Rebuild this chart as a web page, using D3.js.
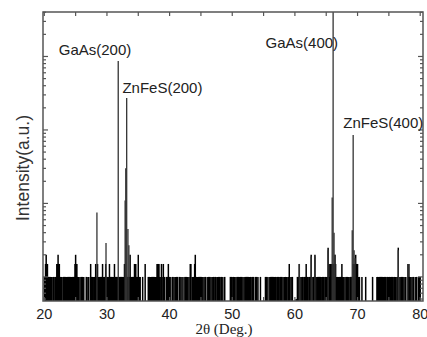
<!DOCTYPE html>
<html><head><meta charset="utf-8">
<script src="https://cdn.jsdelivr.net/npm/d3@7"></script>
<style>html,body{margin:0;padding:0;background:#fff}svg{display:block}</style>
</head><body>
<script>
// ---- data ----
// background counts, one digit per 0.1 deg starting at 20.0 deg (digit = count, 0 = no signal)
const scanStart = 20.0;
const scanStep = 0.1;
const countUnit = 5; // intensity per count
const noiseChunks = [
  "22343322222220220222334332222022222222222022222223",  // 20.0-24.9
  "43322202020202000220220032020222322322222223222232",  // 25.0-29.9
  "22223222222232222222222202223322222224222222333222",  // 30.0-34.9
  "42220002000300002022222220222233332023203020020230",  // 35.0-39.9
  "20200202020202002020200202020202033022223422222222",  // 40.0-44.9
  "22020202002020202020220220222020220200200000000202",  // 45.0-49.9
  "02202020202022020202020222222220202002020200020000",  // 50.0-54.9
  "00020202002222222222202020220202020202022320202000",  // 55.0-59.9
  "00102223202022020232220202420222420220220202202022",  // 60.0-64.9
  "22253233323332432222222223202020202020222223333432",  // 65.0-69.9
  "32220002000002000000000020000002222222222222220222",  // 70.0-74.9
  "22222220222202252020202020220022320202020020200202",  // 75.0-79.9
  "2"                                                    // 80.0
];
// diffraction peaks and isolated spikes: [2theta, intensity]
const peakX = [28.4, 29.85, 31.8, 32.9, 33.0, 33.15, 33.35, 33.5, 65.3, 65.95, 66.1, 66.25, 66.4, 69.15, 69.3, 69.45, 69.6, 76.5, 78.0, 62.6, 63.2, 60.7];
const peakY = [75, 29, 8700, 110, 300, 2720, 45, 27, 23, 120, 60000, 40, 20, 43, 855, 23, 18, 23, 15, 19, 19, 15];
// annotations: text and anchor (2theta, intensity) of the text centre/baseline
const labelText = ["GaAs(200)", "ZnFeS(200)", "GaAs(400)", "ZnFeS(400)"];
const labelX = [28.1, 38.86, 61.11, 74.11];
const labelY = [10470, 3185, 13030, 1062];
const xTickLabels = [20, 30, 40, 50, 60, 70, 80];
const xMinorTicks = [20, 25, 30, 35, 40, 45, 50, 55, 60, 65, 70, 75, 80];
const xTitle = "2θ (Deg.)";
const yTitle = "Intensity(a.u.)";

// ---- drawing ----
const W = 427, H = 337;
const box = {left: 43, right: 423, top: 12, bottom: 301};
const x = d3.scaleLinear().domain([20, 80]).range([44.3, 420.2]);
const y = d3.scaleLog().domain([4.7, 40300]).range([box.bottom, box.top]);

const svg = d3.select("body").append("svg").attr("width", W).attr("height", H);

svg.append("clipPath").attr("id", "clip").append("rect")
  .attr("x", box.left).attr("y", box.top)
  .attr("width", box.right - box.left).attr("height", box.bottom - box.top);

const counts = noiseChunks.join("").split("").map(Number);
const noise = counts.map((c, i) => ({x: scanStart + i * scanStep, v: c * countUnit})).filter(d => d.v > 0);
const peaks = peakX.map((px, i) => ({x: px, v: peakY[i]}));

const g = svg.append("g").attr("clip-path", "url(#clip)");
g.selectAll("line.n").data(noise).join("line").attr("class", "n")
  .attr("x1", d => x(d.x)).attr("x2", d => x(d.x))
  .attr("y1", box.bottom).attr("y2", d => y(d.v))
  .attr("stroke", "#000").attr("stroke-width", 1.5);
g.selectAll("line.p").data(peaks).join("line").attr("class", "p")
  .attr("x1", d => x(d.x)).attr("x2", d => x(d.x))
  .attr("y1", box.bottom).attr("y2", d => y(Math.min(d.v, 1e6)))
  .attr("stroke", "#333").attr("stroke-width", 1.3);

// ticks
const tickCol = "#555";
const ticks = svg.append("g").attr("stroke", tickCol).attr("stroke-width", 1.2);
xMinorTicks.forEach(v => {
  ticks.append("line").attr("x1", x(v)).attr("x2", x(v)).attr("y1", box.top).attr("y2", box.top + 4);
  ticks.append("line").attr("x1", x(v)).attr("x2", x(v)).attr("y1", box.bottom).attr("y2", box.bottom - 4);
});
const yt = [];
for (let k = 0; k <= 4; k++) for (let m = 1; m <= 9; m++) {
  const v = m * Math.pow(10, k);
  if (v >= y.domain()[0] && v <= y.domain()[1]) yt.push({v, major: m === 1});
}
yt.forEach(t => {
  const len = t.major ? 5 : 3;
  ticks.append("line").attr("x1", box.left).attr("x2", box.left + len).attr("y1", y(t.v)).attr("y2", y(t.v));
  ticks.append("line").attr("x1", box.right).attr("x2", box.right - len).attr("y1", y(t.v)).attr("y2", y(t.v));
});

// frame
svg.append("rect").attr("x", box.left).attr("y", box.top)
  .attr("width", box.right - box.left).attr("height", box.bottom - box.top)
  .attr("fill", "none").attr("stroke", "#555").attr("stroke-width", 1.5);

// tick labels
svg.append("g").selectAll("text").data(xTickLabels).join("text")
  .attr("x", d => x(d)).attr("y", 319).attr("text-anchor", "middle")
  .attr("font-family", "Liberation Sans, Arial, sans-serif").attr("font-size", 14.5)
  .attr("fill", "#222").text(d => d);

// axis titles
svg.append("text").attr("x", 224).attr("y", 334).attr("text-anchor", "middle")
  .attr("font-family", "Liberation Serif, Times New Roman, serif").attr("font-size", 15)
  .attr("fill", "#222").text(xTitle);
svg.append("text").attr("transform", "translate(28.5,168) rotate(-90)").attr("text-anchor", "middle")
  .attr("font-family", "Liberation Sans, Arial, sans-serif").attr("font-size", 17.5)
  .attr("fill", "#333").text(yTitle);

// peak annotations
svg.append("g").selectAll("text").data(labelText).join("text")
  .attr("x", (d, i) => x(labelX[i])).attr("y", (d, i) => y(labelY[i]))
  .attr("text-anchor", "middle")
  .attr("font-family", "Liberation Sans, Arial, sans-serif").attr("font-size", 15)
  .attr("fill", "#222").text(d => d);
</script>
</body></html>
